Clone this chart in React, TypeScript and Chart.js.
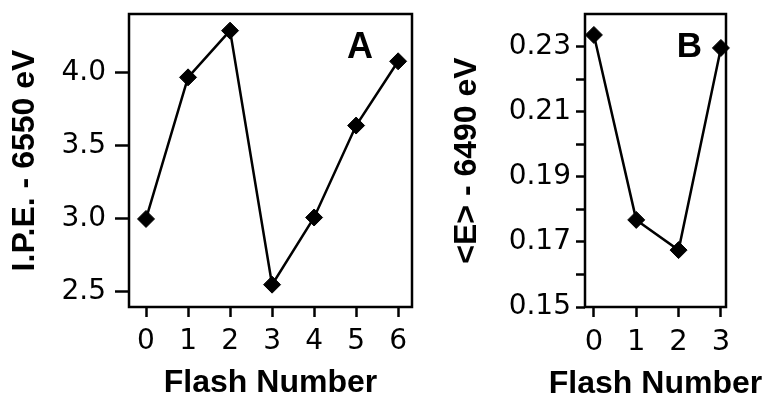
import React, { useEffect, useRef } from 'react';
import { Chart, registerables } from 'chart.js';

Chart.register(...registerables);

// Panel A data
const flashA = [0, 1, 2, 3, 4, 5, 6];
const ipeA = [3.0, 3.97, 4.29, 2.55, 3.01, 3.64, 4.08];
const xTicksA = [0, 1, 2, 3, 4, 5, 6];
const yTicksA = [2.5, 3.0, 3.5, 4.0];

// Panel B data
const flashB = [0, 1, 2, 3];
const energyB = [0.2337, 0.1768, 0.1675, 0.2297];
const xTicksB = [0, 1, 2, 3];
const yTicksB = [0.15, 0.16, 0.17, 0.18, 0.19, 0.2, 0.21, 0.22, 0.23];
const yLabelsB = [0.15, 0.17, 0.19, 0.21, 0.23];

const TITLE_FONT = '"Liberation Sans", Arial, Helvetica, sans-serif';
const TICK_FONT = '"DejaVu Sans", "Liberation Sans", Arial, sans-serif';

const framePlugin = {
  id: 'frame',
  beforeDatasetsDraw(chart: any) {
    const { ctx, chartArea } = chart;
    ctx.save();
    ctx.strokeStyle = '#000';
    ctx.lineWidth = 2.5;
    ctx.strokeRect(chartArea.left, chartArea.top, chartArea.right - chartArea.left, chartArea.bottom - chartArea.top);
    ctx.restore();
  },
};

const letterPlugin = {
  id: 'panelLetter',
  afterDatasetsDraw(chart: any, _args: any, opts: any) {
    const { ctx, scales } = chart;
    ctx.save();
    ctx.font = `bold ${opts.size}px ${TITLE_FONT}`;
    ctx.fillStyle = '#000';
    ctx.textAlign = 'center';
    ctx.textBaseline = 'alphabetic';
    ctx.fillText(opts.text, scales.x.getPixelForValue(opts.x), scales.y.getPixelForValue(opts.y));
    ctx.restore();
  },
};

const xTitlePlugin = {
  id: 'xTitle',
  afterDraw(chart: any, _args: any, opts: any) {
    const { ctx, chartArea } = chart;
    ctx.save();
    ctx.font = `bold ${opts.size}px ${TITLE_FONT}`;
    ctx.fillStyle = '#000';
    ctx.textAlign = 'center';
    ctx.textBaseline = 'alphabetic';
    ctx.fillText(opts.text, (chartArea.left + chartArea.right) / 2, opts.baseline);
    ctx.restore();
  },
};

interface PanelSpec {
  xs: number[];
  ys: number[];
  xTicks: number[];
  yTicks: number[];
  yLabel: (v: number) => string;
  xMin: number;
  xMax: number;
  yMin: number;
  yMax: number;
  yTitle: string;
  yAxisWidth: number;
  yTitlePad: number;
  yTickLen: number;
  yTickPad: number;
  xTickFontSize: number;
  xTitleBaseline: number;
  padRight: number;
  letter: { text: string; x: number; y: number; size: number };
}

function buildConfig(p: PanelSpec): any {
  return {
    type: 'line',
    data: {
      datasets: [
        {
          data: p.xs.map((x, i) => ({ x, y: p.ys[i] })),
          borderColor: '#000',
          borderWidth: 2.5,
          backgroundColor: '#000',
          pointStyle: 'rectRot',
          pointRadius: 8.5,
          pointBackgroundColor: '#000',
          pointBorderColor: '#000',
          pointBorderWidth: 1,
          tension: 0,
          clip: false,
        },
      ],
    },
    options: {
      animation: false,
      responsive: false,
      maintainAspectRatio: false,
      layout: { padding: { top: 14, right: p.padRight, left: 0, bottom: 0 } },
      plugins: {
        legend: { display: false },
        tooltip: { enabled: false },
        panelLetter: p.letter,
        xTitle: { text: 'Flash Number', size: 32, baseline: p.xTitleBaseline },
      },
      scales: {
        x: {
          type: 'linear',
          min: p.xMin,
          max: p.xMax,
          afterBuildTicks: (s: any) => {
            s.ticks = p.xTicks.map((v) => ({ value: v }));
          },
          afterFit: (s: any) => {
            s.height = 88;
            s.paddingLeft = 0;
            s.paddingRight = 0;
          },
          grid: {
            drawOnChartArea: false,
            drawTicks: true,
            tickLength: 10,
            tickWidth: 2.5,
            tickColor: '#000',
          },
          border: { display: false },
          ticks: {
            autoSkip: false,
            maxRotation: 0,
            padding: 8,
            color: '#000',
            font: { family: TICK_FONT, size: p.xTickFontSize },
            callback: (v: number) => String(v),
          },
          title: { display: false },
        },
        y: {
          type: 'linear',
          min: p.yMin,
          max: p.yMax,
          afterBuildTicks: (s: any) => {
            s.ticks = p.yTicks.map((v) => ({ value: v }));
          },
          afterFit: (s: any) => {
            s.width = p.yAxisWidth;
            s.paddingTop = 0;
            s.paddingBottom = 0;
          },
          grid: {
            drawOnChartArea: false,
            drawTicks: true,
            tickLength: p.yTickLen,
            tickWidth: 2.5,
            tickColor: '#000',
          },
          border: { display: false },
          ticks: {
            autoSkip: false,
            padding: p.yTickPad,
            color: '#000',
            font: { family: TICK_FONT, size: 28 },
            callback: (v: number) => p.yLabel(v),
          },
          title: {
            display: true,
            text: p.yTitle,
            color: '#000',
            font: { family: TITLE_FONT, size: 32, weight: 'bold', lineHeight: 1.2 },
            padding: { top: p.yTitlePad, bottom: 0 },
          },
        },
      },
    },
    plugins: [framePlugin, letterPlugin, xTitlePlugin],
  };
}

const panelA: PanelSpec = {
  xs: flashA,
  ys: ipeA,
  xTicks: xTicksA,
  yTicks: yTicksA,
  yLabel: (v) => v.toFixed(1),
  xMin: -0.405,
  xMax: 6.33,
  yMin: 2.397,
  yMax: 4.404,
  yTitle: 'I.P.E. - 6550 eV',
  yAxisWidth: 129,
  yTitlePad: 6,
  yTickLen: 14,
  yTickPad: 9,
  xTickFontSize: 28,
  xTitleBaseline: 392,
  padRight: 18,
  letter: { text: 'A', x: 5.095, y: 4.103, size: 36 },
};

const panelB: PanelSpec = {
  xs: flashB,
  ys: energyB,
  xTicks: xTicksB,
  yTicks: yTicksB,
  yLabel: (v) => (yLabelsB.some((l) => Math.abs(l - v) < 1e-6) ? v.toFixed(2) : ''),
  xMin: -0.21,
  xMax: 3.12,
  yMin: 0.15,
  yMax: 0.24015,
  yTitle: '<E> - 6490 eV',
  yAxisWidth: 155,
  yTitlePad: 18,
  yTickLen: 9,
  yTickPad: 5,
  xTickFontSize: 29,
  xTitleBaseline: 393,
  padRight: 44,
  letter: { text: 'B', x: 2.256, y: 0.2269, size: 35 },
};

function Panel({ spec, left, width }: { spec: PanelSpec; left: number; width: number }) {
  const ref = useRef<HTMLCanvasElement | null>(null);
  useEffect(() => {
    if (!ref.current) return;
    const chart = new Chart(ref.current, buildConfig(spec));
    return () => chart.destroy();
  }, [spec]);
  return (
    <canvas
      ref={ref}
      width={width}
      height={395}
      style={{ position: 'absolute', left, top: 0, width, height: 395, display: 'block' }}
    />
  );
}

export default function App() {
  return (
    <div
      style={{
        position: 'absolute',
        left: 0,
        top: 0,
        width: 770,
        height: 395,
        overflow: 'hidden',
        background: '#fff',
      }}
    >
      <Panel spec={panelA} left={0} width={430} />
      <Panel spec={panelB} left={430} width={340} />
    </div>
  );
}
